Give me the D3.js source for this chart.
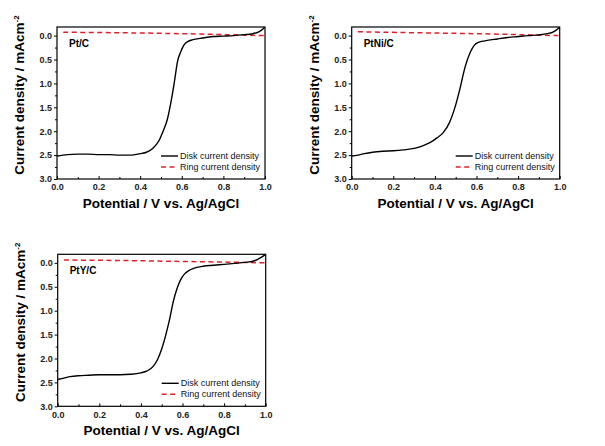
<!DOCTYPE html>
<html><head><meta charset="utf-8">
<script src="https://cdn.jsdelivr.net/npm/d3@7"></script>
<style>body{margin:0;background:#fff}svg{display:block}</style>
</head><body>
<script>
// ---- data ----
const panelLabels = ["Pt/C", "PtNi/C", "PtY/C"];
const xTicks = [0, 0.2, 0.4, 0.6, 0.8, 1.0];
const yTicks = [0, 0.5, 1.0, 1.5, 2.0, 2.5, 3.0];
const legendLabels = ["Disk current density", "Ring current density"];

const ptcDiskV = [0, 0.05, 0.1, 0.15, 0.2, 0.25, 0.3, 0.35, 0.4, 0.43, 0.46, 0.49, 0.51, 0.53, 0.55, 0.565, 0.58, 0.595, 0.61, 0.63, 0.65, 0.7, 0.75, 0.8, 0.85, 0.9, 0.94, 0.97, 0.99, 1.0];
const ptcDiskJ = [2.52, 2.49, 2.48, 2.48, 2.49, 2.49, 2.50, 2.50, 2.47, 2.44, 2.36, 2.20, 2.00, 1.76, 1.34, 0.95, 0.53, 0.34, 0.20, 0.12, 0.09, 0.05, 0.02, 0.01, 0.0, -0.02, -0.04, -0.08, -0.14, -0.18];
const ptcRingV = [0.03, 0.3, 0.6, 0.9, 1.0];
const ptcRingJ = [-0.07, -0.06, -0.04, -0.01, 0.0];

const ptniDiskV = [0, 0.03, 0.06, 0.1, 0.15, 0.2, 0.25, 0.3, 0.35, 0.38, 0.41, 0.44, 0.47, 0.5, 0.52, 0.545, 0.57, 0.59, 0.61, 0.64, 0.7, 0.75, 0.8, 0.85, 0.9, 0.94, 0.97, 0.99, 1.0];
const ptniDiskJ = [2.52, 2.50, 2.47, 2.44, 2.42, 2.41, 2.39, 2.36, 2.29, 2.23, 2.14, 2.03, 1.82, 1.45, 1.12, 0.66, 0.35, 0.20, 0.14, 0.11, 0.07, 0.04, 0.02, 0.0, -0.015, -0.04, -0.08, -0.14, -0.18];
const ptniRingV = [0.03, 0.3, 0.6, 0.9, 1.0];
const ptniRingJ = [-0.08, -0.06, -0.04, -0.01, 0.0];

const ptyDiskV = [0, 0.03, 0.06, 0.1, 0.15, 0.2, 0.25, 0.3, 0.35, 0.4, 0.43, 0.46, 0.48, 0.5, 0.52, 0.54, 0.555, 0.575, 0.59, 0.61, 0.63, 0.65, 0.7, 0.75, 0.8, 0.85, 0.9, 0.95, 0.98, 1.0];
const ptyDiskJ = [2.44, 2.41, 2.38, 2.36, 2.35, 2.34, 2.34, 2.34, 2.33, 2.30, 2.26, 2.16, 2.02, 1.80, 1.50, 1.14, 0.82, 0.52, 0.36, 0.23, 0.16, 0.12, 0.07, 0.05, 0.03, 0.01, -0.01, -0.05, -0.12, -0.18];
const ptyRingV = [0.03, 0.3, 0.6, 0.9, 1.0];
const ptyRingJ = [-0.06, -0.05, -0.03, -0.01, 0.0];

const panels = [
  {label: panelLabels[0], dV: ptcDiskV, dJ: ptcDiskJ, rV: ptcRingV, rJ: ptcRingJ, left: 57, top: 27},
  {label: panelLabels[1], dV: ptniDiskV, dJ: ptniDiskJ, rV: ptniRingV, rJ: ptniRingJ, left: 351.7, top: 27},
  {label: panelLabels[2], dV: ptyDiskV, dJ: ptyDiskJ, rV: ptyRingV, rJ: ptyRingJ, left: 57.7, top: 254.3}
];

const W = 605, H = 446, PW = 208, PH = 152;
const svg = d3.select("body").append("svg").attr("width", W).attr("height", H)
  .style("font-family", "'Liberation Sans', Arial, sans-serif");

panels.forEach((p, i) => {
  const g = svg.append("g").attr("transform", `translate(${p.left},${p.top})`);
  const x = d3.scaleLinear().domain([0, 1]).range([0, PW]);
  const y = d3.scaleLinear().domain([-0.18, 3.0]).range([0, PH]);
  const clipId = "clip" + i;
  g.append("clipPath").attr("id", clipId).append("rect").attr("width", PW).attr("height", PH);

  // x axis (inward ticks)
  const xa = g.append("g").attr("transform", `translate(0,${PH})`)
    .call(d3.axisBottom(x).tickValues(xTicks).tickFormat(d3.format(".1f")).tickSize(-3).tickPadding(5));
  g.append("g").attr("transform", `translate(0,${PH})`)
    .call(d3.axisBottom(x).tickValues(d3.range(0.1, 1, 0.2)).tickFormat("").tickSize(-2))
    .call(a => a.select(".domain").remove());
  // y axis (outward)
  const ya = g.append("g")
    .call(d3.axisLeft(y).tickValues(yTicks).tickFormat(d3.format(".1f")).tickSize(3).tickPadding(2));
  g.append("g")
    .call(d3.axisLeft(y).tickValues(d3.range(0.25, 3, 0.5)).tickFormat("").tickSize(2))
    .call(a => a.select(".domain").remove());
  [xa, ya].forEach(a => {
    a.select(".domain").remove();
    a.selectAll("text").style("font-size", "9px").style("font-weight", "bold").attr("fill", "#222");
  });
  g.selectAll(".tick line").attr("stroke", "#000");

  // frame
  g.append("rect").attr("width", PW).attr("height", PH).attr("fill", "none").attr("stroke", "#000").attr("stroke-width", 1.2);

  const line = d3.line().x(d => x(d[0])).y(d => y(d[1])).curve(d3.curveMonotoneX);
  const plot = g.append("g").attr("clip-path", `url(#${clipId})`);
  plot.append("path").datum(p.rV.map((v, k) => [v, p.rJ[k]]))
    .attr("d", line).attr("fill", "none").attr("stroke", "#e0202a").attr("stroke-width", 1.5).attr("stroke-dasharray", "5,3.5");
  plot.append("path").datum(p.dV.map((v, k) => [v, p.dJ[k]]))
    .attr("d", line).attr("fill", "none").attr("stroke", "#000").attr("stroke-width", 1.4);

  // panel label
  g.append("text").attr("x", 12).attr("y", 20).text(p.label)
    .style("font-size", "10px").style("font-weight", "bold");

  // legend
  const lg = g.append("g").attr("transform", `translate(${PW - 104},${PH - 23})`);
  lg.append("line").attr("x1", 0).attr("x2", 17).attr("y1", 0).attr("y2", 0).attr("stroke", "#000").attr("stroke-width", 1.4);
  lg.append("line").attr("x1", 0).attr("x2", 17).attr("y1", 11).attr("y2", 11).attr("stroke", "#e0202a").attr("stroke-width", 1.5).attr("stroke-dasharray", "5,3.5");
  lg.selectAll("text.lgt").data(legendLabels).join("text").attr("class", "lgt")
    .attr("x", 19).attr("y", (d, k) => k * 11 + 3).text(d => d)
    .style("font-size", "9px").attr("fill", "#111");

  // axis titles
  g.append("text").attr("x", PW / 2).attr("y", PH + 29).attr("text-anchor", "middle")
    .style("font-size", "13.5px").style("font-weight", "bold").text("Potential / V vs. Ag/AgCl");
  const yt = g.append("text").attr("transform", `translate(-33,${PH / 2 - 8}) rotate(-90)`)
    .attr("text-anchor", "middle").style("font-size", "13.5px").style("font-weight", "bold");
  yt.append("tspan").text("Current density / mAcm");
  yt.append("tspan").attr("dy", -5).style("font-size", "8px").text("-2");
});
</script>
</body></html>
